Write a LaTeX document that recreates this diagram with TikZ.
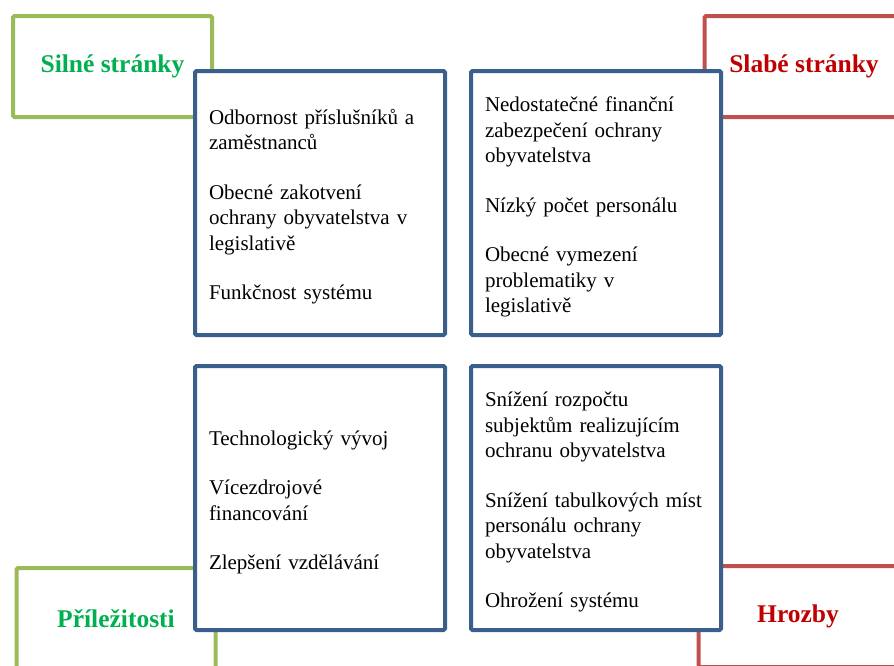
\documentclass[tikz,border=0pt]{standalone}
\usepackage{fontspec}
\setmainfont{Liberation Serif}
\usepackage{tikz}
\usetikzlibrary{positioning}

\definecolor{swotgreen}{HTML}{9BBB59}
\definecolor{swotred}{HTML}{C0504D}
\definecolor{swotblue}{HTML}{3A5F8D}
\definecolor{titlegreen}{HTML}{00B050}
\definecolor{titlered}{HTML}{C00000}

\newcommand{\gap}{\\[24pt]}

\begin{document}
\begin{tikzpicture}[x=1pt, y=-1pt,
    corner/.style={rectangle, draw, line width=4pt, rounded corners=1.5pt,
    minimum width=199pt, minimum height=101pt, font=\fontsize{25.5}{30}\selectfont\bfseries},
    strong/.style={corner, draw=swotgreen, text=titlegreen},
    weak/.style={corner, draw=swotred, text=titlered},
    swotbox/.style={rectangle, draw=swotblue, fill=white, line width=4pt, rounded corners=1.5pt,
    text width=222pt, inner xsep=14pt, minimum height=264pt, align=left,
    font=\fontsize{21}{25.5}\selectfont, execute at begin node={\rule{0pt}{23pt}\ignorespaces}}]
    \useasboundingbox (0,0) rectangle (894,665);
    \clip (0,0) rectangle (894,665);

    % corner boxes with the titles
    \node (silnetitle) [strong] at (112.5,66.5) {Silné stránky};
    \node (slabetitle) [weak] at (804,66.5) {Slabé stránky};
    \node (prileztitle) [strong] at (116,618.5) {Příležitosti};
    \node (hrozbytitle) [weak] at (798,616.5) {Hrozby};

    % inner boxes
    \node (silne) [swotbox] at (320,203) {
        Odbornost příslušníků a\\ zaměstnanců\gap
        Obecné zakotvení\\ ochrany obyvatelstva v\\ legislativě\gap
        Funkčnost systému
    };

    \node (slabe) [swotbox, right=22pt of silne] {
        Nedostatečné finanční\\ zabezpečení ochrany\\ obyvatelstva\gap
        Nízký počet personálu\gap
        Obecné vymezení\\ problematiky v\\ legislativě
    };

    \node (prilez) [swotbox, below=27pt of silne] {
        Technologický vývoj\gap
        Vícezdrojové\\ financování\gap
        Zlepšení vzdělávání
    };

    \node (hrozby) [swotbox, right=22pt of prilez] {
        Snížení rozpočtu\\ subjektům realizujícím\\ ochranu obyvatelstva\gap
        Snížení tabulkových míst\\ personálu ochrany\\ obyvatelstva\gap
        Ohrožení systému
    };
\end{tikzpicture}
\end{document}
